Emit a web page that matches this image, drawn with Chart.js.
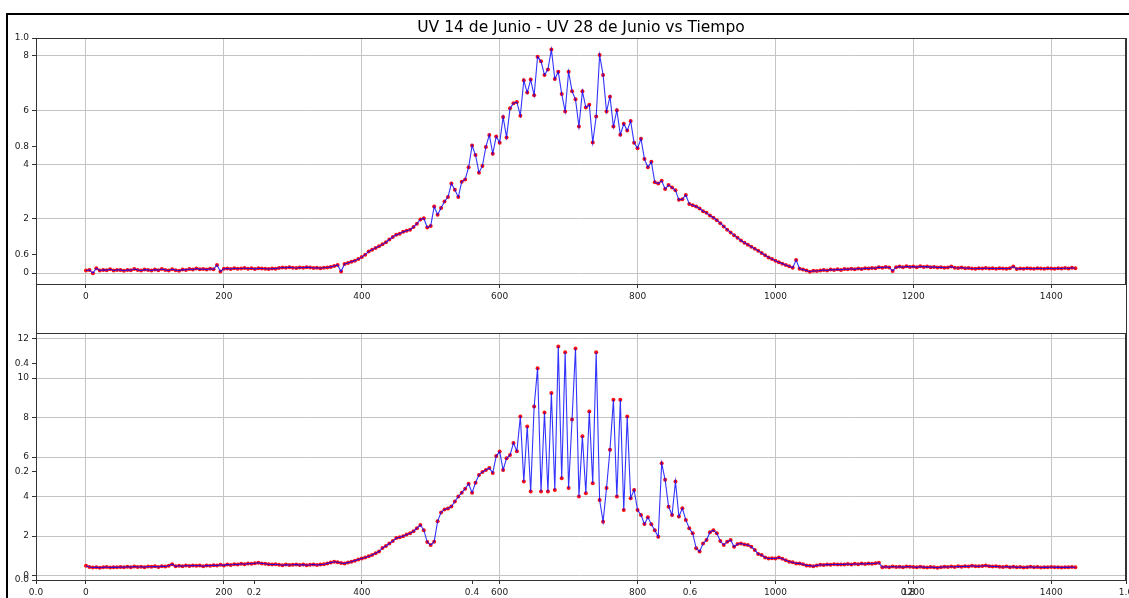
<!DOCTYPE html>
<html>
<head>
<meta charset="utf-8">
<script src="https://cdn.jsdelivr.net/npm/chart.js@4"></script>
<style>
  html, body { margin: 0; padding: 0; background: #fff; }
  #fig { position: relative; width: 1129px; height: 598px; overflow: hidden; background: #fff; }
  #frame { position: absolute; left: 6px; top: 13px; right: -10px; bottom: -10px; border-top: 2px solid #000; border-left: 2px solid #000; }
  canvas { position: absolute; left: 0; top: 0; }
</style>
</head>
<body>
<div id="fig">
  <div id="frame"></div>
  <canvas id="bg" width="1129" height="598"></canvas>
  <canvas id="top" width="1129" height="598"></canvas>
  <canvas id="bottom" width="1129" height="598"></canvas>
</div>
<script>
// minutes of the day, one reading every 5 minutes
var minutes = [];
for (var m = 0; m < 1440; m += 5) minutes.push(m);

// UV 14 de Junio
var uv14 = [
  0.10,0.12,0.00,0.18,0.10,0.12,0.11,0.14,0.10,0.12,0.12,0.09,0.12,0.11,0.15,0.12,0.10,0.13,0.12,0.10,
  0.13,0.11,0.15,0.12,0.10,0.14,0.11,0.09,0.13,0.12,0.15,0.13,0.17,0.14,0.15,0.13,0.16,0.14,0.30,0.06,
  0.16,0.17,0.15,0.18,0.16,0.17,0.19,0.16,0.18,0.15,0.18,0.17,0.16,0.15,0.17,0.16,0.19,0.21,0.20,0.22,
  0.20,0.19,0.21,0.20,0.22,0.21,0.19,0.20,0.18,0.20,0.21,0.23,0.26,0.30,0.06,0.34,0.37,0.42,0.46,0.52,
  0.59,0.68,0.80,0.86,0.93,0.99,1.06,1.14,1.24,1.33,1.41,1.45,1.52,1.56,1.60,1.70,1.82,1.98,2.02,1.68,
  1.74,2.45,2.15,2.40,2.64,2.80,3.30,3.07,2.80,3.37,3.45,3.90,4.70,4.35,3.70,3.95,4.65,5.09,4.40,5.03,
  4.80,5.75,5.00,6.07,6.26,6.30,5.80,7.10,6.65,7.13,6.55,7.97,7.80,7.30,7.50,8.24,7.15,7.42,6.60,5.95,
  7.42,6.70,6.40,5.40,6.70,6.10,6.20,4.81,5.77,8.03,7.30,5.95,6.50,5.40,6.00,5.10,5.50,5.25,5.60,4.80,
  4.60,4.95,4.20,3.90,4.10,3.35,3.30,3.40,3.10,3.25,3.15,3.05,2.70,2.72,2.88,2.55,2.50,2.45,2.38,2.28,
  2.22,2.12,2.04,1.95,1.84,1.72,1.60,1.50,1.40,1.30,1.20,1.12,1.05,0.97,0.90,0.82,0.74,0.66,0.58,0.52,
  0.46,0.40,0.35,0.30,0.25,0.20,0.48,0.16,0.13,0.10,0.05,0.09,0.08,0.10,0.12,0.10,0.13,0.12,0.14,0.12,
  0.15,0.14,0.16,0.14,0.17,0.15,0.18,0.17,0.19,0.18,0.22,0.20,0.23,0.21,0.08,0.22,0.24,0.22,0.25,0.23,
  0.24,0.22,0.25,0.23,0.24,0.22,0.23,0.21,0.22,0.20,0.21,0.24,0.20,0.19,0.21,0.18,0.19,0.17,0.16,0.18,
  0.17,0.19,0.17,0.18,0.16,0.18,0.17,0.16,0.18,0.24,0.15,0.17,0.16,0.18,0.17,0.16,0.18,0.17,0.16,0.18,
  0.17,0.16,0.18,0.17,0.19,0.17,0.20,0.18
];

// UV 28 de Junio
var uv28 = [
  0.50,0.44,0.41,0.43,0.40,0.42,0.44,0.41,0.43,0.42,0.44,0.43,0.45,0.43,0.46,0.44,0.45,0.43,0.46,0.45,
  0.47,0.44,0.48,0.46,0.50,0.58,0.47,0.50,0.48,0.51,0.49,0.52,0.50,0.51,0.48,0.52,0.50,0.53,0.51,0.55,
  0.52,0.57,0.54,0.58,0.56,0.60,0.58,0.61,0.60,0.63,0.65,0.62,0.60,0.58,0.56,0.58,0.55,0.53,0.56,0.54,
  0.55,0.57,0.54,0.56,0.53,0.55,0.57,0.54,0.56,0.58,0.62,0.66,0.70,0.68,0.64,0.62,0.66,0.70,0.76,0.82,
  0.87,0.92,0.98,1.05,1.13,1.22,1.40,1.50,1.63,1.75,1.90,1.94,2.00,2.08,2.14,2.25,2.40,2.56,2.30,1.70,
  1.55,1.72,2.75,3.20,3.35,3.40,3.50,3.75,4.00,4.20,4.40,4.65,4.20,4.70,5.10,5.25,5.35,5.45,5.20,6.05,
  6.28,5.35,5.94,6.10,6.71,6.30,8.06,4.76,7.55,4.26,8.56,10.50,4.26,8.26,4.26,9.24,4.34,11.60,4.93,11.30,
  4.43,7.90,11.50,4.00,7.05,4.17,8.31,4.68,11.30,3.83,2.73,4.43,6.37,8.90,4.00,8.90,3.32,8.06,3.92,4.34,
  3.32,3.07,2.61,2.95,2.60,2.30,1.97,5.69,4.85,3.49,3.07,4.76,2.99,3.41,2.82,2.40,2.14,1.39,1.22,1.63,
  1.80,2.20,2.30,2.14,1.75,1.55,1.72,1.80,1.46,1.60,1.63,1.58,1.55,1.46,1.30,1.10,1.04,0.92,0.87,0.88,
  0.87,0.92,0.85,0.78,0.70,0.68,0.62,0.62,0.58,0.52,0.50,0.48,0.52,0.55,0.54,0.57,0.55,0.58,0.56,0.57,
  0.57,0.59,0.56,0.60,0.58,0.61,0.59,0.62,0.60,0.63,0.65,0.43,0.45,0.43,0.46,0.44,0.45,0.43,0.46,0.45,
  0.44,0.42,0.45,0.43,0.41,0.44,0.42,0.40,0.43,0.45,0.44,0.46,0.44,0.47,0.45,0.48,0.46,0.50,0.48,0.47,
  0.49,0.51,0.48,0.46,0.47,0.45,0.44,0.46,0.43,0.45,0.42,0.44,0.41,0.43,0.45,0.42,0.44,0.41,0.43,0.42,
  0.44,0.42,0.43,0.41,0.43,0.42,0.44,0.42
];

var timeTicks = [0, 200, 400, 600, 800, 1000, 1200, 1400];
var uv14Ticks = [0, 2, 4, 6, 8];
var uv28Ticks = [0, 2, 4, 6, 8, 10, 12];
var unitTicks = [0, 0.2, 0.4, 0.6, 0.8, 1.0];
var titleText = "UV 14 de Junio - UV 28 de Junio vs Tiempo";

var FONT = "'DejaVu Sans', sans-serif";

// draws the four spines round the plot area
var framePlugin = {
  id: 'frame',
  afterDraw: function (chart) {
    var a = chart.chartArea;
    var ctx = chart.ctx;
    ctx.save();
    ctx.strokeStyle = '#333';
    ctx.lineWidth = 1;
    ctx.strokeRect(Math.round(a.left) + 0.5, Math.round(a.top) + 0.5,
      Math.round(a.right - a.left), Math.round(a.bottom - a.top));
    ctx.restore();
  }
};

function axis(ticks, min, max, fmt, isX, grid) {
  return {
    type: 'linear',
    min: min,
    max: max,
    grid: { color: '#c4c4c4', lineWidth: 1, tickLength: 4, tickColor: '#333', drawOnChartArea: grid },
    border: { display: false },
    ticks: {
      font: { family: FONT, size: 9 },
      color: '#222',
      padding: 3,
      autoSkip: false,
      maxRotation: 0,
      callback: fmt
    },
    afterBuildTicks: function (s) {
      s.ticks = ticks.map(function (v) { return { value: v }; });
    },
    afterFit: function (s) {
      if (isX) {
        s.height = 18;
        s.paddingLeft = 0;
        s.paddingRight = 0;
      } else {
        s.width = 36;
        s.paddingTop = 0;
        s.paddingBottom = 0;
      }
    }
  };
}

function plain(v) { return String(v); }
function oneDecimal(v) { return v.toFixed(1); }

var common = {
  responsive: false,
  animation: false,
  events: [],
  devicePixelRatio: 1
};

// background axes (0..1) carrying the title
new Chart(document.getElementById('bg'), {
  type: 'scatter',
  data: { datasets: [] },
  options: Object.assign({}, common, {
    layout: { padding: { left: 0, right: 3, top: 0, bottom: 0 } },
    plugins: {
      legend: { display: false },
      tooltip: { enabled: false },
      title: {
        display: true,
        fullSize: false,
        text: titleText,
        color: '#000',
        font: { family: FONT, size: 15.5, weight: 'normal' },
        padding: { top: 19, bottom: 0.4 }
      }
    },
    scales: {
      x: axis(unitTicks, 0, 1, oneDecimal, true, false),
      y: axis(unitTicks, 0, 1, oneDecimal, false, false)
    }
  }),
  plugins: [framePlugin]
});

function subplot(id, values, yTicks, yMin, yMax, top, bottom) {
  var pts = minutes.map(function (m, i) { return { x: m, y: values[i] }; });
  return new Chart(document.getElementById(id), {
    type: 'scatter',
    data: {
      datasets: [
        { data: pts, showLine: true, borderColor: 'rgba(0,0,255,0.8)', borderWidth: 1.1, pointRadius: 0 },
        { data: pts, showLine: false, pointRadius: 2, pointBackgroundColor: '#ff1010', pointBorderWidth: 0 }
      ]
    },
    options: Object.assign({}, common, {
      layout: { padding: { left: 0, right: 3, top: top, bottom: 598 - bottom - 18 } },
      plugins: { legend: { display: false }, tooltip: { enabled: false } },
      scales: {
        x: axis(timeTicks, -72.5, 1507, plain, true, true),
        y: axis(yTicks, yMin, yMax, plain, false, true)
      }
    }),
    plugins: [framePlugin]
  });
}

subplot('top', uv14, uv14Ticks, -0.40, 8.66, 38, 284);
subplot('bottom', uv28, uv28Ticks, -0.22, 12.28, 333, 580);
</script>
</body>
</html>
